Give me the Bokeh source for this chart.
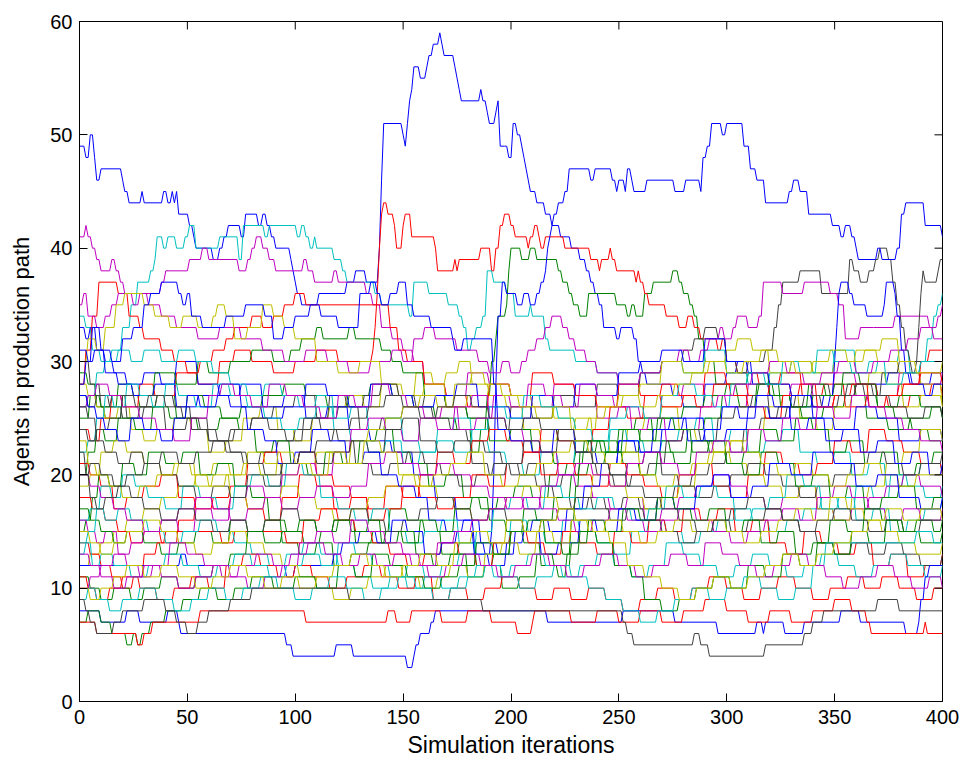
from bokeh.plotting import figure
from bokeh.models import FixedTicker, Range1d
from bokeh.embed import file_html
from bokeh.resources import INLINE

# ---- axis ticks ----
x_ticks = [0, 50, 100, 150, 200, 250, 300, 350, 400]
y_ticks = [0, 10, 20, 30, 40, 50, 60]

# ---- MATLAB default colour order ----
color_order = ["#0000FF", "#008000", "#FF0000", "#00BFBF", "#BF00BF", "#BFBF00", "#404040"]

# ---- series: flat lists of (iteration, agents) change points ----
# blue
b1 = [0,49, 3,48, 5,50, 7,48, 8,46, 10,47, 20,46, 21,45, 23,44, 29,45, 30,44, 39,45, 41,44, 43,45, 44,44, 45,45, 46,43,
      51,42, 53,41, 54,40, 62,39, 65,40, 67,41, 69,42, 73,42, 75,41, 77,43, 82,43, 83,42, 85,43, 87,42, 89,41, 91,40,
      96,40, 98,39, 99,38, 100,37, 101,36, 103,35, 109,35, 111,36, 122,36, 124,37, 127,37, 128,38, 131,38, 133,37,
      138,37, 139,40, 140,46, 141,51, 149,51, 150,50, 151,49, 152,51, 153,53, 154,54, 155,56, 157,56, 158,55, 160,55,
      161,56, 162,57, 164,58, 166,58, 167,59, 168,58, 169,57, 173,57, 174,56, 175,55, 176,54, 177,53, 185,53, 186,54,
      187,53, 189,52, 190,51, 192,51, 193,52, 194,53, 195,49, 197,49, 199,48, 201,51, 203,50, 205,49, 206,48, 207,47,
      208,46, 209,45, 211,45, 212,44, 214,44, 216,43, 219,42, 223,41, 226,41, 228,40, 231,40, 232,39, 235,38, 237,37,
      239,36, 241,35, 243,33, 248,33, 249,32, 251,33, 256,33, 257,32, 259,30, 261,29, 263,28, 272,28, 275,27, 280,26,
      290,28, 300,29, 305,30, 312,28, 320,27, 330,26, 345,27, 360,28, 375,29, 385,28, 395,29, 400,29]
b2 = [0,33, 3,32, 5,33, 8,31, 12,30, 16,29, 22,28, 30,29, 38,28, 45,30, 55,28, 65,27, 75,28, 85,26, 95,27, 105,25,
      115,26, 125,24, 135,23, 145,22, 155,20, 165,18, 175,16, 183,14, 188,13, 191,15, 192,20, 193,28, 194,34, 196,37,
      198,36, 203,35, 206,36, 209,35, 212,36, 214,37, 216,38, 217,40, 218,41, 219,42, 220,43, 222,44, 225,45, 227,47,
      237,46, 239,47, 247,46, 249,45, 250,46, 253,45, 254,47, 256,46, 257,45, 263,46, 276,45, 281,46, 288,45, 289,48,
      291,49, 293,51, 298,50, 300,51, 308,49, 311,47, 314,46, 318,44, 329,45, 331,46, 334,45, 338,43, 349,42, 353,41,
      355,42, 358,41, 360,40, 361,39, 370,40, 372,39, 379,40, 381,43, 383,44, 392,42, 399,42, 400,41]
b3 = [0,31, 4,30, 7,31, 12,29, 18,28, 25,27, 35,28, 45,26, 55,27, 65,28, 75,26, 85,25, 95,26, 105,28, 115,27, 125,26,
      135,28, 145,27, 155,26, 165,27, 175,28, 185,26, 200,25, 210,27, 220,26, 230,28, 240,27, 250,29, 260,30, 270,31,
      280,30, 290,32, 300,30, 310,29, 320,28, 330,27, 340,26, 348,27, 350,30, 351,33, 352,36, 353,37, 357,36, 359,35,
      365,34, 373,35, 374,37, 378,36, 379,34, 381,31, 383,29, 386,28, 392,27, 396,28, 400,28]
b4 = [0,28, 3,30, 6,33, 10,31, 15,30, 20,32, 25,33, 30,35, 33,36, 38,37, 46,36, 48,35, 50,36, 52,34, 57,33, 68,34,
      77,35, 86,34, 90,32, 95,33, 100,34, 107,35, 112,34, 120,33, 130,36, 135,37, 138,36, 140,35, 144,36, 148,37,
      152,35, 155,34, 162,34, 163,33, 173,32, 174,31, 178,32, 191,32, 192,28, 194,24, 200,23, 210,22, 220,24, 230,22,
      240,21, 250,23, 260,22, 270,24, 280,25, 290,23, 300,24, 310,26, 320,25, 330,27, 340,25, 350,24, 360,26, 370,25,
      380,23, 390,24, 400,23]
b5 = [0,8, 10,7, 22,8, 28,7, 41,8, 46,7, 47,6, 96,5, 99,4, 119,5, 127,4, 152,3, 155,4, 156,5, 158,6, 163,7, 165,8,
      215,8, 217,7, 250,7, 252,8, 274,8, 276,7, 296,6, 314,7, 317,6, 318,7, 327,6, 336,7, 353,8, 362,7, 382,7, 383,6,
      389,7, 390,9, 392,11, 394,12, 400,12]
b6 = [0,12, 45,12, 47,13, 50,12, 96,11, 100,12, 118,13, 122,14, 130,15, 138,14, 145,16, 152,15, 160,13, 168,14,
      175,15, 183,13, 190,12, 198,14, 206,15, 214,13, 222,14, 232,16, 240,15, 250,17, 258,16, 268,18, 276,17, 286,19,
      294,20, 302,18, 312,19, 320,21, 330,20, 340,22, 350,21, 360,19, 370,20, 380,18, 390,17, 400,18]
b7 = [0,27, 4,26, 8,25, 12,24, 18,23, 24,25, 30,24, 38,23, 44,25, 50,27, 56,26, 64,27, 70,26, 78,24, 86,23, 92,21,
      100,22, 108,24, 116,23, 124,21, 132,22, 140,20, 148,19, 156,18, 162,16, 170,15, 178,16, 186,14, 194,13, 202,15,
      210,16, 218,15, 226,17, 234,19, 242,21, 250,23, 258,22, 266,24, 274,25, 282,23, 290,24, 298,26, 306,25, 314,27,
      322,26, 330,24, 338,25, 346,23, 354,24, 362,22, 370,23, 378,21, 386,22, 394,20, 400,21]
# green
g1 = [0,29, 4,28, 8,26, 12,25, 20,27, 28,26, 36,27, 45,25, 55,24, 65,25, 75,26, 85,27, 95,28, 105,27, 115,26,
      125,27, 135,28, 145,27, 155,26, 165,25, 175,24, 182,22, 186,24, 189,27, 191,30, 193,32, 194,34, 198,35, 199,38,
      200,40, 205,39, 209,40, 212,39, 222,38, 224,37, 227,36, 229,35, 232,34, 236,36, 249,35, 254,34, 256,35, 258,34,
      262,36, 266,37, 275,38, 278,37, 280,36, 283,35, 285,34, 287,32, 290,30, 295,28, 305,27, 315,28, 325,26, 335,25,
      345,26, 355,27, 365,25, 375,24, 385,25, 395,26, 400,25]
g2 = [0,25, 5,27, 10,26, 18,28, 25,27, 35,29, 45,28, 55,30, 60,29, 70,30, 80,31, 90,30, 98,31, 103,32, 110,33,
      113,32, 125,33, 128,32, 135,32, 140,31, 145,30, 150,29, 160,27, 170,26, 180,25, 190,23, 200,24, 210,22, 220,21,
      230,22, 240,23, 250,22, 260,24, 270,25, 280,26, 290,27, 300,28, 310,29, 320,27, 330,26, 340,27, 350,28, 360,27,
      370,26, 380,27, 390,26, 400,25]
g3 = [0,15, 3,16, 6,18, 9,20, 14,19, 20,21, 26,20, 32,22, 40,21, 48,22, 56,20, 64,21, 72,19, 80,18, 88,16, 96,15,
      104,14, 112,15, 120,16, 128,14, 136,15, 144,17, 152,16, 160,15, 168,13, 176,14, 184,12, 192,13, 200,15, 206,17,
      212,16, 220,18, 228,20, 236,21, 244,22, 252,21, 260,20, 268,22, 276,21, 284,23, 292,22, 300,21, 308,22, 316,24,
      324,23, 332,25, 340,24, 348,22, 356,23, 364,21, 372,22, 380,20, 388,21, 396,22, 400,22]
g4 = [0,11, 5,10, 10,9, 16,10, 24,9, 30,10, 38,11, 46,10, 54,11, 62,12, 70,13, 78,15, 86,14, 94,15, 102,16, 110,15,
      118,16, 126,15, 134,16, 140,14, 148,15, 156,13, 164,12, 172,13, 180,11, 188,12, 196,10, 204,11, 212,13, 220,12,
      228,14, 236,16, 244,15, 252,17, 260,16, 268,18, 276,17, 284,16, 292,17, 300,15, 308,16, 316,14, 324,15, 332,13,
      340,14, 348,16, 356,15, 364,17, 372,16, 380,15, 388,16, 396,15, 400,16]
g5 = [0,7, 4,8, 10,7, 15,6, 22,5, 25,6, 27,5, 29,6, 33,7, 40,8, 48,9, 56,10, 64,9, 72,10, 80,11, 90,10, 100,11,
      110,10, 120,12, 128,11, 136,13, 144,12, 152,11, 160,10, 168,11, 176,12, 184,14, 192,13, 200,15, 208,16, 216,14,
      224,13, 232,15, 240,14, 248,12, 256,11, 262,9, 270,8, 278,9, 286,10, 294,11, 302,10, 310,12, 318,11, 326,13,
      334,12, 342,14, 350,13, 358,15, 366,14, 374,16, 382,15, 390,14, 400,15]
g6 = [0,20, 4,22, 8,24, 12,23, 18,25, 26,24, 34,26, 42,25, 50,27, 58,26, 66,25, 74,24, 82,22, 90,23, 98,21, 106,20,
      114,22, 122,21, 130,23, 138,24, 146,22, 154,21, 162,19, 170,20, 178,18, 186,17, 194,18, 202,19, 210,18, 218,20,
      226,21, 234,23, 242,22, 250,24, 258,25, 266,23, 274,22, 282,24, 290,25, 298,27, 306,26, 314,28, 322,27, 330,26,
      338,28, 346,27, 354,29, 362,28, 370,26, 378,25, 386,24, 394,23, 400,23]
g7 = [0,17, 5,16, 10,15, 16,14, 22,15, 30,14, 38,13, 46,14, 54,15, 62,14, 70,16, 78,15, 86,16, 94,14, 102,13, 110,14,
      118,12, 126,13, 134,14, 142,15, 150,14, 158,16, 166,15, 174,17, 182,18, 190,16, 198,15, 206,14, 214,12, 222,11,
      226,13, 228,16, 230,19, 232,22, 236,23, 244,22, 252,24, 260,23, 268,25, 276,24, 284,22, 292,23, 300,21, 308,20,
      316,22, 324,21, 332,19, 340,20, 348,18, 356,19, 364,17, 372,18, 380,19, 388,17, 396,18, 400,18]
# red
r1 = [0,24, 5,23, 10,25, 15,27, 20,26, 28,28, 35,27, 45,29, 55,28, 65,30, 72,31, 80,30, 90,29, 100,30, 110,31,
      120,30, 130,30, 136,31, 137,33, 138,36, 139,40, 140,43, 141,44, 143,43, 146,42, 147,40, 150,42, 151,43, 154,41,
      165,40, 166,38, 174,39, 175,38, 176,39, 186,40, 191,38, 193,40, 195,42, 197,43, 200,42, 202,41, 208,40, 209,41,
      211,42, 213,41, 214,40, 216,41, 225,40, 237,39, 241,38, 242,39, 246,40, 247,39, 249,38, 258,37, 259,38, 260,37,
      262,36, 264,35, 270,35, 272,34, 278,33, 282,34, 285,33, 288,32, 296,31, 298,32, 300,30, 305,29, 315,28, 325,29,
      335,27, 345,28, 355,26, 365,27, 375,26, 385,27, 395,28, 400,27]
r2 = [0,21, 5,20, 10,19, 16,17, 22,18, 30,19, 38,20, 46,18, 54,17, 62,18, 70,19, 78,21, 86,22, 94,21, 102,22, 110,20,
      118,19, 126,18, 134,17, 142,19, 150,18, 158,20, 166,22, 174,21, 182,23, 190,24, 198,23, 206,22, 214,24, 222,23,
      230,22, 238,24, 246,26, 254,25, 262,27, 270,28, 278,27, 286,26, 294,28, 302,27, 310,26, 318,25, 326,27, 334,28,
      342,26, 350,27, 358,28, 366,26, 374,27, 382,28, 390,30, 394,31, 400,31]
r3 = [0,18, 6,17, 12,16, 18,15, 24,14, 30,15, 38,14, 46,16, 54,18, 62,17, 70,18, 78,17, 86,16, 94,18, 102,20, 110,19,
      118,17, 126,18, 134,16, 142,17, 150,19, 158,18, 166,17, 174,18, 182,20, 190,19, 198,21, 206,22, 214,20, 222,21,
      230,20, 238,19, 246,21, 254,20, 262,19, 270,18, 278,20, 286,21, 294,19, 302,18, 310,20, 318,22, 326,21, 334,20,
      342,21, 350,23, 358,22, 366,24, 374,23, 382,22, 390,21, 400,20]
r4 = [0,14, 5,13, 10,12, 15,11, 20,10, 25,11, 30,13, 36,14, 40,15, 60,15, 66,14, 72,15, 90,15, 96,14, 104,16, 112,17,
      120,16, 128,15, 136,14, 144,13, 152,12, 160,13, 168,14, 176,13, 184,12, 192,14, 200,15, 208,14, 216,13, 224,15,
      232,14, 240,13, 248,15, 256,14, 264,16, 272,15, 280,17, 288,16, 296,17, 304,15, 312,16, 320,14, 328,13, 336,15,
      344,14, 352,13, 360,14, 368,12, 376,13, 384,11, 392,12, 400,13]
r5 = [0,11, 4,10, 8,9, 14,10, 20,11, 28,10, 36,9, 44,10, 52,11, 60,10, 68,12, 76,13, 84,12, 92,11, 100,12, 108,11,
      116,10, 124,11, 132,12, 140,11, 148,10, 156,11, 164,9, 172,10, 180,9, 188,10, 196,11, 204,10, 212,9, 220,10,
      228,9, 236,10, 244,9, 252,8, 260,9, 268,10, 276,9, 284,10, 292,11, 300,10, 308,9, 316,10, 324,11, 332,10, 340,9,
      348,10, 356,11, 364,10, 372,11, 380,10, 388,9, 396,10, 400,10]
r6 = [0,7, 8,6, 27,5, 30,6, 34,7, 56,8, 105,7, 143,8, 147,7, 154,8, 168,7, 180,8, 191,7, 203,6, 210,7, 211,8, 228,7,
      240,8, 250,7, 260,8, 270,7, 280,8, 290,9, 300,8, 310,7, 320,8, 330,7, 340,8, 350,9, 358,8, 365,7, 367,6, 392,7,
      393,6, 400,6]
r7 = [0,28, 3,31, 6,34, 9,37, 18,36, 23,34, 28,33, 30,32, 38,31, 44,30, 50,29, 56,30, 62,31, 68,32, 72,33, 80,34,
      85,33, 90,34, 95,35, 100,36, 105,35, 140,35, 144,33, 148,31, 152,30, 160,28, 170,27, 180,26, 190,28, 200,27,
      210,29, 220,28, 230,27, 240,26, 250,28, 260,27, 270,26, 280,27, 290,29, 300,28, 310,27, 320,28, 330,27, 340,26,
      350,27, 360,28, 370,27, 380,28, 390,29, 400,28]
# cyan
c1 = [0,34, 3,33, 6,31, 10,30, 15,31, 20,33, 24,35, 27,37, 33,38, 35,39, 36,41, 39,40, 41,41, 45,40, 49,41, 51,42,
      54,40, 65,41, 74,39, 76,42, 86,41, 88,42, 101,41, 103,42, 105,41, 107,40, 109,41, 110,40, 118,39, 122,38,
      124,37, 137,36, 140,35, 153,34, 155,37, 162,36, 171,35, 176,34, 178,33, 180,31, 182,32, 184,33, 187,34, 189,38,
      192,37, 198,36, 202,34, 209,35, 210,34, 216,32, 218,31, 230,30, 240,29, 250,28, 260,29, 270,30, 280,29, 290,31,
      300,29, 310,28, 320,29, 330,30, 340,29, 350,31, 360,29, 370,30, 380,31, 385,29, 390,30, 393,32, 396,34, 398,35,
      400,36]
c2 = [0,13, 3,14, 6,12, 10,13, 16,12, 24,11, 32,12, 40,13, 48,12, 56,11, 64,12, 72,13, 80,12, 88,11, 96,12, 104,13,
      112,12, 120,14, 128,13, 136,12, 144,11, 152,12, 160,11, 168,10, 176,11, 184,12, 192,11, 200,12, 208,13, 216,12,
      224,11, 232,12, 240,13, 248,12, 256,11, 264,12, 272,14, 280,13, 288,12, 296,11, 304,12, 312,13, 320,12, 328,11,
      336,12, 344,13, 352,12, 360,11, 368,12, 376,13, 384,12, 392,11, 400,12]
c3 = [0,9, 4,10, 8,9, 14,8, 20,9, 28,10, 36,9, 44,8, 52,9, 60,10, 68,9, 76,10, 84,11, 92,10, 100,9, 108,10, 116,11,
      124,10, 132,9, 140,10, 148,11, 156,10, 164,9, 172,10, 180,11, 188,12, 196,11, 204,10, 212,11, 220,12, 228,11,
      236,10, 244,9, 252,8, 260,7, 268,8, 276,9, 284,10, 292,9, 300,10, 308,11, 316,10, 324,9, 332,10, 340,12, 346,14,
      380,14, 388,15, 396,14, 400,14]
c4 = [0,14, 4,15, 8,17, 12,16, 18,17, 24,16, 32,15, 40,14, 48,15, 56,16, 64,15, 72,14, 80,13, 88,12, 96,13, 104,14,
      112,13, 120,12, 128,11, 136,10, 144,11, 152,10, 160,11, 168,12, 176,13, 184,15, 192,17, 200,18, 208,17, 216,19,
      224,18, 232,17, 240,18, 248,17, 256,16, 264,17, 272,19, 280,18, 288,19, 296,18, 304,16, 312,17, 320,18, 328,20,
      336,19, 344,17, 352,18, 360,16, 368,17, 376,15, 384,16, 392,17, 400,18]
c5 = [0,22, 4,23, 8,25, 12,27, 16,26, 22,28, 28,27, 34,26, 40,28, 46,27, 54,26, 62,28, 70,27, 78,26, 86,25, 94,24,
      102,25, 110,26, 118,24, 126,23, 134,22, 142,23, 150,21, 158,22, 166,23, 174,22, 182,24, 190,26, 198,25, 206,27,
      214,26, 222,25, 230,24, 238,23, 246,25, 254,26, 262,25, 270,27, 278,28, 286,27, 294,26, 302,28, 310,29, 318,28,
      326,30, 334,29, 342,31, 350,30, 358,29, 366,30, 374,28, 382,29, 390,30, 400,30]
c6 = [0,16, 5,17, 10,19, 15,18, 20,20, 26,19, 32,18, 40,17, 48,19, 56,18, 64,17, 72,19, 80,20, 88,19, 96,21, 104,20,
      112,18, 120,17, 128,16, 136,17, 144,15, 152,14, 160,15, 168,16, 176,14, 184,13, 192,14, 200,16, 208,15, 216,14,
      224,16, 232,15, 240,14, 248,13, 256,15, 264,16, 272,15, 280,14, 288,15, 296,16, 304,17, 312,16, 320,15, 328,16,
      336,17, 344,18, 352,17, 360,19, 368,18, 376,20, 384,19, 392,18, 400,19]
c7 = [0,26, 4,27, 8,29, 12,30, 18,31, 24,30, 30,31, 38,30, 46,31, 54,30, 62,29, 70,28, 78,27, 86,28, 94,27, 102,26,
      110,27, 118,25, 126,26, 134,24, 142,25, 150,23, 158,22, 166,24, 174,25, 182,23, 190,22, 198,21, 206,20, 214,22,
      222,21, 230,23, 238,22, 246,24, 254,23, 262,22, 270,23, 278,24, 286,25, 294,23, 302,24, 310,22, 318,23, 326,24,
      334,22, 342,21, 350,22, 358,20, 366,21, 374,19, 382,20, 390,21, 400,20]
# magenta
m1 = [0,41, 3,42, 4,41, 6,40, 8,39, 10,38, 15,39, 17,38, 19,37, 21,36, 38,37, 40,38, 51,39, 57,40, 60,39, 74,38,
      78,39, 80,40, 82,41, 85,40, 88,39, 91,38, 104,39, 106,38, 109,37, 118,38, 120,37, 133,36, 136,35, 140,33,
      145,32, 150,31, 155,30, 160,28, 170,27, 180,29, 190,28, 200,27, 210,26, 220,28, 230,27, 240,25, 250,26, 260,25,
      270,27, 280,28, 290,27, 300,26, 310,28, 320,27, 330,28, 340,27, 350,29, 360,28, 370,27, 380,29, 390,28, 400,29]
m2 = [0,35, 2,36, 4,34, 8,33, 12,34, 15,35, 18,36, 25,35, 28,36, 32,35, 38,34, 45,33, 55,32, 65,33, 75,32, 85,31,
      95,30, 105,31, 115,30, 125,29, 135,30, 145,31, 150,30, 155,32, 160,33, 165,32, 175,31, 185,30, 190,29, 196,30,
      200,29, 205,30, 208,31, 212,32, 216,33, 219,34, 224,33, 227,32, 230,31, 235,30, 240,29, 250,28, 260,29, 270,30,
      278,31, 283,30, 288,31, 292,32, 297,33, 299,32, 303,33, 305,34, 310,33, 315,34, 317,37, 326,36, 336,37, 348,36,
      352,35, 355,32, 362,33, 368,33, 378,34, 390,34, 394,33, 398,34, 400,35]
m3 = [0,16, 4,15, 8,14, 12,15, 18,13, 24,14, 30,15, 38,16, 46,15, 54,17, 62,16, 70,18, 78,19, 86,18, 94,20, 102,21,
      110,20, 118,22, 126,24, 134,25, 142,24, 150,23, 158,25, 166,24, 174,26, 182,27, 190,25, 198,24, 206,23, 214,22,
      222,20, 230,19, 238,18, 246,17, 254,18, 262,16, 270,17, 278,18, 286,19, 294,20, 302,19, 310,18, 318,17, 326,18,
      334,19, 342,17, 350,16, 358,17, 366,18, 374,19, 382,20, 390,19, 400,18]
m4 = [0,10, 5,11, 10,12, 16,13, 22,12, 28,11, 34,12, 42,14, 50,13, 58,12, 66,11, 74,12, 82,13, 90,12, 98,13, 106,14,
      114,13, 122,12, 130,13, 138,12, 146,13, 154,12, 162,11, 170,12, 178,13, 186,12, 194,11, 202,12, 210,13, 218,12,
      226,11, 234,12, 242,13, 250,12, 258,11, 266,12, 274,13, 282,12, 290,14, 298,13, 306,12, 314,11, 322,12, 330,13,
      338,12, 346,11, 354,10, 362,11, 370,12, 378,11, 386,10, 394,11, 400,10]
m5 = [0,26, 4,27, 8,28, 14,27, 20,26, 28,25, 36,24, 44,23, 52,25, 60,27, 66,28, 72,27, 80,26, 88,28, 96,27, 104,26,
      112,25, 120,27, 128,26, 136,28, 144,27, 152,26, 160,25, 168,26, 176,24, 184,25, 192,27, 200,26, 208,28, 216,27,
      224,26, 232,28, 240,27, 248,26, 256,24, 264,25, 272,23, 280,24, 288,26, 296,27, 304,28, 312,29, 320,30, 328,29,
      336,28, 344,29, 352,30, 360,29, 368,30, 376,31, 384,32, 390,33, 396,32, 400,32]
m6 = [0,20, 5,19, 10,18, 16,17, 22,16, 30,15, 38,16, 46,17, 54,18, 62,17, 70,16, 78,17, 86,18, 94,17, 102,18, 110,19,
      118,18, 126,19, 134,21, 142,22, 150,21, 158,20, 166,21, 174,20, 182,19, 190,18, 198,17, 206,18, 214,17, 222,16,
      230,15, 238,16, 246,17, 254,16, 262,15, 270,16, 278,17, 286,16, 294,15, 302,14, 310,15, 318,16, 326,17, 334,16,
      342,18, 350,19, 358,18, 366,17, 374,16, 382,17, 390,16, 400,17]
m7 = [0,13, 5,12, 10,11, 16,10, 22,11, 30,12, 38,11, 46,10, 54,11, 62,12, 70,11, 78,10, 86,11, 94,12, 102,14, 110,15,
      118,14, 126,16, 134,15, 142,14, 150,13, 158,12, 166,14, 174,15, 182,16, 190,17, 198,18, 206,17, 214,19, 222,20,
      230,21, 238,20, 246,19, 254,21, 262,22, 270,21, 278,20, 286,22, 294,23, 302,22, 310,24, 318,23, 326,25, 334,24,
      342,26, 350,25, 358,27, 366,26, 374,25, 382,24, 390,23, 400,22]
# yellow
y1 = [0,28, 4,27, 8,26, 12,25, 18,26, 24,24, 30,23, 36,24, 44,25, 52,24, 60,22, 68,23, 76,25, 84,26, 92,24, 100,23,
      108,25, 116,26, 124,27, 132,26, 140,28, 148,27, 156,29, 164,28, 170,29, 176,30, 182,28, 190,27, 198,26, 206,24,
      214,23, 222,24, 230,25, 238,23, 246,22, 254,24, 262,25, 270,26, 278,24, 286,23, 294,22, 302,23, 310,24, 318,26,
      326,27, 334,25, 342,24, 350,26, 358,27, 366,29, 374,28, 382,26, 390,27, 400,26]
y2 = [0,23, 4,21, 8,20, 14,19, 20,18, 28,19, 36,20, 44,21, 52,20, 60,19, 68,20, 76,21, 84,20, 92,22, 100,21, 108,20,
      116,22, 124,21, 132,23, 140,22, 148,20, 156,19, 164,20, 172,21, 180,22, 188,20, 196,19, 204,20, 212,21, 220,22,
      228,23, 236,22, 244,21, 252,22, 260,20, 268,19, 276,20, 284,21, 292,22, 300,23, 308,22, 316,21, 324,20, 332,21,
      340,20, 348,19, 356,20, 364,21, 372,20, 380,19, 388,20, 400,20]
y3 = [0,10, 5,9, 10,10, 16,11, 22,12, 30,11, 38,12, 46,11, 54,10, 62,11, 70,12, 78,11, 86,10, 94,11, 102,10, 110,11,
      118,12, 126,13, 134,12, 142,11, 150,12, 158,13, 166,12, 174,14, 182,15, 190,14, 198,16, 206,15, 214,16, 222,17,
      230,16, 238,15, 246,14, 254,12, 262,11, 270,10, 278,9, 286,10, 294,11, 302,10, 310,11, 318,12, 326,13, 334,12,
      342,13, 350,14, 358,15, 366,16, 374,17, 382,16, 390,17, 400,16]
y4 = [0,19, 5,20, 10,22, 16,23, 22,22, 30,21, 38,20, 46,21, 54,19, 62,20, 70,18, 78,17, 86,18, 94,19, 102,18, 110,17,
      118,16, 126,17, 134,18, 142,19, 150,20, 158,19, 166,18, 174,17, 182,16, 190,17, 198,18, 206,19, 214,18, 222,17,
      230,18, 238,20, 246,19, 254,18, 262,17, 270,18, 278,19, 286,21, 294,22, 302,21, 310,20, 318,19, 326,18, 334,19,
      342,17, 350,16, 358,18, 366,19, 374,21, 382,22, 390,24, 400,23]
y5 = [0,15, 5,14, 10,13, 16,14, 22,15, 30,16, 38,15, 46,14, 54,13, 62,14, 70,15, 78,14, 86,13, 94,12, 102,11, 110,10,
      118,9, 126,10, 134,11, 142,12, 150,11, 158,10, 166,11, 172,12, 180,11, 188,13, 196,14, 204,13, 212,15, 220,14,
      228,16, 236,15, 244,16, 252,15, 260,14, 268,15, 276,16, 284,15, 292,16, 300,15, 308,14, 316,15, 324,16, 332,17,
      340,16, 348,18, 356,17, 364,16, 372,15, 380,14, 388,13, 400,14]
y6 = [0,30, 4,32, 8,31, 12,33, 17,35, 21,36, 30,35, 35,34, 42,33, 48,34, 55,33, 62,34, 64,35, 68,34, 72,32, 78,33,
      85,35, 90,34, 95,33, 100,32, 110,30, 120,29, 130,30, 140,28, 150,27, 160,28, 170,26, 180,27, 190,28, 200,27,
      210,26, 220,25, 230,24, 240,26, 250,27, 260,28, 270,30, 280,29, 290,30, 300,31, 305,32, 312,31, 320,29, 330,30,
      340,29, 350,30, 360,31, 370,30, 380,29, 390,28, 400,26]
y7 = [0,12, 5,13, 10,14, 16,15, 22,16, 30,17, 38,18, 46,19, 54,20, 62,21, 70,20, 78,22, 86,21, 94,20, 102,21, 110,22,
      118,21, 126,23, 134,24, 142,25, 150,26, 158,27, 166,26, 174,28, 182,29, 188,28, 196,27, 204,26, 212,25, 220,26,
      228,24, 236,25, 244,26, 252,27, 260,26, 268,27, 276,28, 284,29, 292,30, 300,29, 308,30, 316,31, 324,30, 332,29,
      340,30, 348,31, 356,30, 364,31, 372,32, 380,30, 388,29, 400,30]
# dark grey
k1 = [0,30, 5,28, 10,26, 15,27, 22,25, 30,26, 40,24, 50,25, 60,23, 70,24, 80,25, 90,26, 100,27, 110,25, 120,26,
      130,24, 140,25, 150,26, 160,27, 170,26, 180,25, 190,24, 200,26, 210,25, 220,27, 230,26, 240,28, 250,27, 260,29,
      270,30, 280,31, 285,32, 290,33, 296,32, 300,30, 305,29, 310,30, 318,31, 322,33, 324,35, 326,37, 334,38, 344,36,
      357,39, 359,38, 362,37, 366,38, 369,39, 371,40, 375,39, 377,37, 379,35, 381,33, 383,31, 385,30, 400,30]
k2 = [0,27, 4,26, 8,27, 14,26, 20,25, 28,26, 36,27, 44,26, 52,24, 60,23, 68,22, 76,21, 84,22, 92,23, 100,24, 108,25,
      116,27, 124,26, 132,27, 140,28, 148,27, 156,26, 164,25, 172,24, 180,23, 188,22, 196,21, 204,20, 212,19, 220,18,
      228,17, 236,18, 244,17, 252,18, 260,17, 268,18, 276,19, 284,20, 292,21, 300,22, 308,24, 316,25, 324,26, 332,27,
      340,28, 348,27, 356,28, 364,27, 372,29, 380,30, 386,29, 388,30, 389,33, 390,36, 391,38, 392,37, 398,38, 399,39,
      400,39]
k3 = [0,26, 4,25, 8,23, 12,22, 18,21, 24,22, 30,21, 38,20, 46,19, 54,18, 62,19, 70,18, 78,20, 86,19, 94,21, 102,22,
      110,21, 118,22, 126,23, 134,22, 142,24, 150,25, 158,23, 166,22, 174,23, 182,21, 190,20, 198,21, 206,23, 214,22,
      222,24, 230,23, 238,21, 246,20, 254,21, 262,22, 270,20, 278,19, 286,18, 294,19, 302,20, 310,21, 318,20, 326,19,
      334,18, 342,19, 350,20, 358,21, 366,22, 374,21, 382,20, 390,21, 400,22]
k4 = [0,22, 3,20, 5,18, 8,17, 12,18, 18,19, 24,18, 30,17, 38,16, 46,17, 54,16, 62,15, 70,16, 78,15, 86,16, 94,17,
      102,16, 110,15, 118,16, 126,17, 134,16, 142,15, 150,16, 158,17, 166,18, 174,17, 182,16, 190,17, 198,16, 206,15,
      214,16, 222,17, 230,18, 238,17, 246,16, 254,17, 262,16, 270,15, 278,14, 286,15, 294,16, 302,15, 310,16, 318,17,
      326,16, 334,15, 342,14, 350,13, 358,14, 366,13, 374,14, 382,13, 390,12, 400,13]
k5 = [0,20, 5,21, 10,20, 16,19, 22,20, 30,21, 38,22, 46,21, 54,22, 62,23, 70,22, 78,21, 86,20, 94,21, 102,22, 110,23,
      118,24, 126,25, 134,26, 142,27, 150,26, 158,25, 166,26, 174,27, 182,26, 190,25, 198,24, 206,25, 214,24, 222,23,
      230,22, 238,21, 246,20, 254,19, 262,18, 270,17, 278,16, 286,15, 294,16, 302,17, 310,18, 318,17, 326,16, 334,15,
      342,16, 350,17, 358,16, 366,15, 374,16, 382,15, 390,16, 400,16]
k6 = [0,9, 3,8, 5,7, 8,6, 16,7, 20,8, 30,9, 40,8, 45,7, 50,6, 55,7, 60,8, 70,9, 80,10, 110,10, 125,9, 186,9, 187,8,
      250,8, 252,7, 254,6, 257,5, 285,6, 288,5, 292,4, 318,5, 336,6, 340,7, 345,8, 370,9, 380,8, 400,8]
k7 = [0,24, 4,23, 8,24, 14,25, 20,27, 26,26, 32,27, 40,26, 48,25, 56,24, 64,23, 72,24, 80,25, 88,24, 96,23, 104,25,
      112,24, 120,23, 128,21, 136,20, 144,21, 152,22, 160,21, 168,20, 176,19, 184,20, 192,21, 200,20, 208,21, 216,19,
      224,20, 232,21, 240,20, 248,19, 256,20, 264,21, 272,23, 280,24, 288,23, 296,25, 304,26, 312,27, 320,25, 328,26,
      336,27, 344,26, 352,27, 360,28, 368,27, 376,26, 384,25, 392,26, 400,25]

# drawing order: MATLAB cycles b, g, r, c, m, y, k
groups = [
    [b1, g1, r1, c1, m1, y1, k1],
    [b2, g2, r7, c7, m2, y6, k2],
    [b3, g6, r2, c5, m5, y7, k7],
    [b4, g3, r3, c6, m3, y4, k3],
    [b7, g7, r4, c4, m6, y2, k4],
    [b6, g4, r5, c2, m7, y5, k5],
    [b5, g5, r6, c3, m4, y3, k6],
]


def to_path(pts):
    ts = pts[0::2]
    vs = pts[1::2]
    xs = [ts[0]]
    ys = [vs[0]]
    for t, v in zip(ts[1:], vs[1:]):
        if v != ys[-1] and t - 1 > xs[-1]:
            xs.append(t - 1)
            ys.append(ys[-1])
        xs.append(t)
        ys.append(v)
    return xs, ys


FONT = "Liberation Sans"
X0, X1 = x_ticks[0], x_ticks[-1]
Y0, Y1 = y_ticks[0], y_ticks[-1]

p = figure(width=963, height=760, x_range=Range1d(X0, X1), y_range=Range1d(Y0, Y1),
           output_backend="svg", toolbar_location=None,
           min_border_left=79, min_border_right=21, min_border_top=21, min_border_bottom=59)
p.xgrid.visible = False
p.ygrid.visible = False
p.outline_line_color = "black"
p.outline_line_width = 1
p.background_fill_color = "white"
p.border_fill_color = "white"

for row in groups:
    for series, col in zip(row, color_order):
        xs, ys = to_path(series)
        p.line(xs, ys, line_color=col, line_width=1)

for ax, ticks in ((p.xaxis[0], x_ticks), (p.yaxis[0], y_ticks)):
    ax.ticker = FixedTicker(ticks=ticks)
    ax.major_tick_in = 8
    ax.major_tick_out = 0
    ax.minor_tick_line_color = None
    ax.axis_line_color = "black"
    ax.major_tick_line_color = "black"
    ax.major_label_text_font = FONT
    ax.major_label_text_font_size = "20px"
    ax.major_label_text_color = "black"
    ax.axis_label_text_font = FONT
    ax.axis_label_text_font_style = "normal"
    ax.axis_label_text_color = "black"

p.xaxis.axis_label = "Simulation iterations"
p.yaxis.axis_label = "Agents in production path"
p.xaxis.axis_label_text_font_size = "23px"
p.yaxis.axis_label_text_font_size = "22px"
p.xaxis.major_label_standoff = 8
p.xaxis.axis_label_standoff = 5
p.yaxis.major_label_standoff = 7
p.yaxis.axis_label_standoff = 13

# mirrored inward ticks on the top and right edges (MATLAB box style), length ~8 px
tick_dx = (X1 - X0) * 8 / 863
tick_dy = (Y1 - Y0) * 8 / 680
p.segment(x0=x_ticks, y0=[Y1] * len(x_ticks), x1=x_ticks, y1=[Y1 - tick_dy] * len(x_ticks),
          line_color="black", line_width=1)
p.segment(x0=[X1] * len(y_ticks), y0=y_ticks, x1=[X1 - tick_dx] * len(y_ticks), y1=y_ticks,
          line_color="black", line_width=1)

open("out.html", "w").write(file_html(p, INLINE))
